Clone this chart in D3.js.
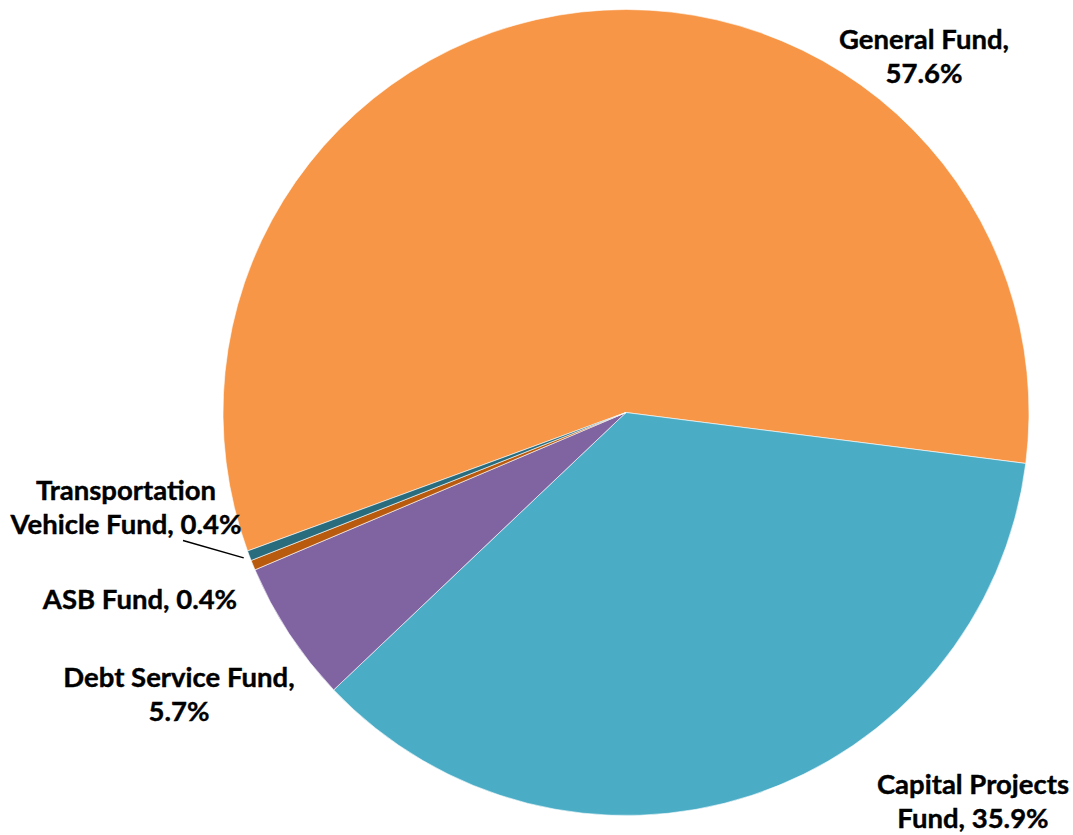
<!DOCTYPE html>
<html>
<head>
<meta charset="utf-8">
<script src="https://cdn.jsdelivr.net/npm/d3@7"></script>
<style>
  body { margin: 0; background: #fff; }
  text { font-family: Lato, "Open Sans", sans-serif; font-weight: bold; fill: #000; }
</style>
</head>
<body>
<script>
const funds = ["General Fund", "Capital Projects Fund", "Debt Service Fund", "ASB Fund", "Transportation Vehicle Fund"];
const shares = [57.6, 35.9, 5.7, 0.4, 0.4];
const colors = ["#F79646", "#4BACC6", "#8064A2", "#B95B0F", "#286C7D"];
const labelLines = [
  ["General Fund,", "57.6%"],
  ["Capital Projects", "Fund, 35.9%"],
  ["Debt Service Fund,", "5.7%"],
  ["ASB Fund, 0.4%"],
  ["Transportation", "Vehicle Fund, 0.4%"]
];

const width = 1073;
const height = 835;
const cx = 626, cy = 412.5, radius = 403;

// label centres, as offsets from the pie centre
const labelOffsets = [
  [298, -356],
  [347, 389],
  [-447, 282],
  [-486, 187],
  [-500, 95]
];

const svg = d3.select("body").append("svg")
  .attr("width", width)
  .attr("height", height);

const g = svg.append("g").attr("transform", `translate(${cx},${cy})`);

const data = funds.map((name, i) => ({ name, value: shares[i], color: colors[i], lines: labelLines[i], off: labelOffsets[i] }));

const startDeg = -110.1;
const pie = d3.pie()
  .sort(null)
  .value((d) => d.value)
  .startAngle(startDeg * Math.PI / 180)
  .endAngle((startDeg + 360) * Math.PI / 180);

const arc = d3.arc().innerRadius(0).outerRadius(radius);
const arcs = pie(data);

g.selectAll("path")
  .data(arcs)
  .join("path")
  .attr("d", arc)
  .attr("fill", (d) => d.data.color)
  .attr("stroke", "#fff")
  .attr("stroke-width", 0.6);

const lineHeight = 34;
const labels = g.selectAll("text.label")
  .data(arcs)
  .join("text")
  .attr("class", "label")
  .attr("text-anchor", "middle")
  .attr("font-size", 27.5)
  .attr("stroke", "#000")
  .attr("stroke-width", 0.4);

labels.each(function (d) {
  const n = d.data.lines.length;
  const t = d3.select(this);
  d.data.lines.forEach((line, j) => {
    t.append("tspan")
      .attr("x", d.data.off[0])
      .attr("y", d.data.off[1] + (j - (n - 1) / 2) * lineHeight)
      .attr("dy", "0.35em")
      .text(line);
  });
});

// leader line for the small transportation slice
const tv = arcs[4];
const mid = (tv.startAngle + tv.endAngle) / 2;
const edge = radius + 6;
g.append("line")
  .attr("x1", tv.data.off[0] + 57)
  .attr("y1", tv.data.off[1] + 33)
  .attr("x2", edge * Math.sin(mid))
  .attr("y2", -edge * Math.cos(mid))
  .attr("stroke", "#000")
  .attr("stroke-width", 1.5);
</script>
</body>
</html>
